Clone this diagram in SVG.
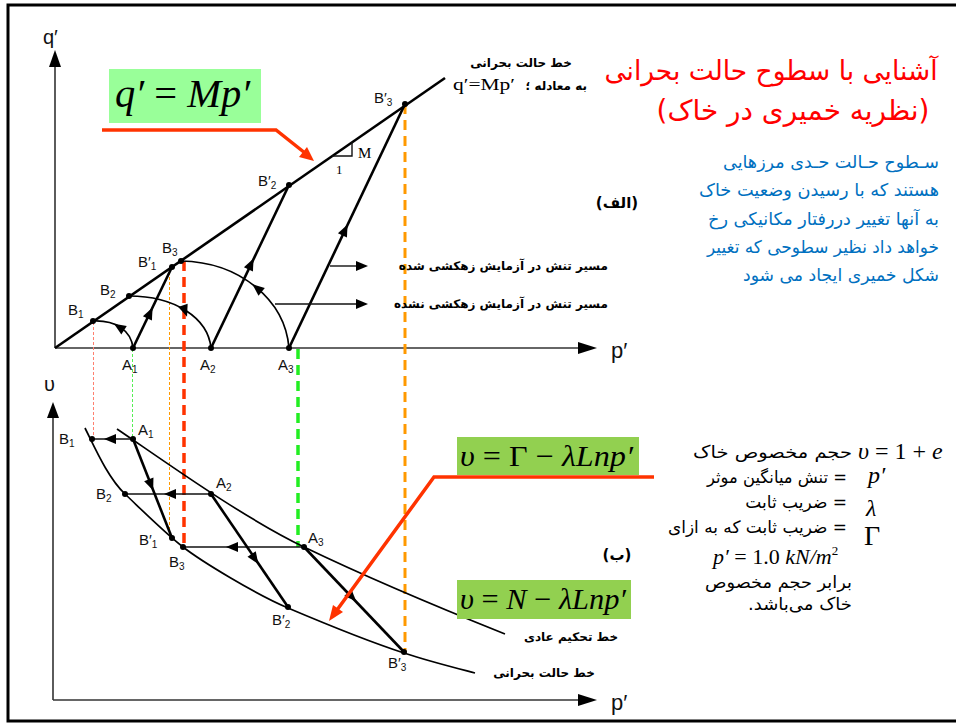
<svg xmlns="http://www.w3.org/2000/svg" width="956" height="723" viewBox="0 0 956 723">
<defs>
<style>
.ax{stroke:#333;stroke-width:1.6;fill:none}
.thk{stroke:#000;stroke-width:2.6;fill:none}
.thn{stroke:#111;stroke-width:1.4;fill:none}
.arc{stroke:#000;stroke-width:1.7;fill:none}
.ah{fill:#000}
.dot{fill:#000}
.lbl{font-family:"Liberation Sans",Arial,sans-serif;font-size:15px;fill:#111}
.sub{font-size:10px}
.fa{font-family:"DejaVu Sans",sans-serif;direction:rtl}
.math{font-family:"Liberation Serif","Times New Roman",serif;fill:#000}
.it{font-style:italic}
.up{font-style:normal}
.red{stroke:#FF3300;stroke-width:3.5;fill:none}
</style>
<path id="tri" d="M6,0 L-6,-5 L-6,5 Z"/>
</defs>
<rect x="8" y="5" width="950" height="716" fill="#fff" stroke="#000" stroke-width="3"/>

<g id="top-axes">
<line class="ax" x1="55" y1="348" x2="55" y2="64"/>
<polygon class="ah" points="55,50 49,67 61,67"/>
<line class="ax" x1="55" y1="348" x2="582" y2="348"/>
<polygon class="ah" points="597,348 578,342 578,354"/>
<text x="43" y="44" class="lbl" style="font-size:20px">q′</text>
<text x="611" y="358" class="lbl" style="font-size:22px">p′</text>
</g>

<g id="bottom-axes">
<line class="ax" x1="53" y1="700" x2="53" y2="416"/>
<polygon class="ah" points="53,402 47,418 59,418"/>
<line class="ax" x1="53" y1="700" x2="582" y2="700"/>
<polygon class="ah" points="597,700 578,694 578,706"/>
<text x="44" y="391" class="lbl" style="font-size:20px">υ</text>
<text x="611" y="710" class="lbl" style="font-size:22px">p′</text>
</g>

<g id="guides">
<line x1="93.5" y1="322" x2="93.5" y2="439" stroke="#FF7F6F" stroke-width="1" stroke-dasharray="3 2"/>
<line x1="132.5" y1="349" x2="132.5" y2="439" stroke="#55EE55" stroke-width="1" stroke-dasharray="3 2"/>
<line x1="169.5" y1="267" x2="169.5" y2="538" stroke="#FF9900" stroke-width="1" stroke-dasharray="3 2"/>
<line x1="184" y1="261" x2="184" y2="547" stroke="#FF3300" stroke-width="3.5" stroke-dasharray="10 6"/>
<line x1="298" y1="349" x2="298" y2="547" stroke="#22EE22" stroke-width="3.5" stroke-dasharray="10 6"/>
<line x1="405" y1="104" x2="405" y2="652" stroke="#FF9900" stroke-width="3" stroke-dasharray="10 6"/>
</g>

<g id="connectors">
<line class="thk" x1="55" y1="348" x2="445" y2="78" stroke-width="2.2"/>
<polyline class="thn" points="332,156 352,156 352,142" stroke-width="1.2"/>
<line class="thk" x1="133" y1="348" x2="172" y2="267"/>
<line class="thk" x1="211" y1="348" x2="289" y2="185"/>
<line class="thk" x1="289" y1="348" x2="405" y2="104"/>
<path class="arc" d="M133,348 C131,330 115,320 93,321"/>
<path class="arc" d="M211,348 C208,318 175,296 129,296"/>
<path class="arc" d="M289,348 C285,300 240,262 181,261"/>
<use href="#tri" transform="translate(150,313) rotate(-64.3)"/>
<use href="#tri" transform="translate(251,264) rotate(-64.4)"/>
<use href="#tri" transform="translate(345,230) rotate(-64.6)"/>
<use href="#tri" transform="translate(119,327) rotate(213)"/>
<use href="#tri" transform="translate(185,311) rotate(70)"/>
<use href="#tri" transform="translate(257,288) rotate(219)"/>
<line class="thn" x1="330" y1="266" x2="358" y2="266"/>
<polygon class="ah" points="368,266 356,261 356,271"/>
<line class="thn" x1="275" y1="304" x2="358" y2="304"/>
<polygon class="ah" points="368,304 356,299 356,309"/>
<path class="arc" d="M117,429 C160,458 240,516 304,547 C360,574 440,608 505,634"/>
<path class="arc" d="M85,428 C95,448 108,478 125,494 C145,513 165,533 183,547 C201,561 255,594 288,608 C321,622 370,642 404,653 C428,661 452,667 475,673"/>
<line class="thn" x1="133" y1="439" x2="92" y2="439"/>
<line class="thn" x1="211" y1="494" x2="125" y2="494"/>
<line class="thn" x1="304" y1="547" x2="183" y2="547"/>
<use href="#tri" transform="translate(110,439) rotate(180)"/>
<use href="#tri" transform="translate(170,494) rotate(180)"/>
<use href="#tri" transform="translate(232,547) rotate(180)"/>
<line class="thk" x1="133" y1="439" x2="172" y2="538"/>
<line class="thk" x1="211" y1="494" x2="288" y2="607"/>
<line class="thk" x1="304" y1="547" x2="404" y2="652"/>
<use href="#tri" transform="translate(151,485) rotate(68.5)"/>
<use href="#tri" transform="translate(255,559) rotate(55.7)"/>
<use href="#tri" transform="translate(352,597) rotate(46.4)"/>
<polyline class="red" points="102,130 276,130 305,153"/>
<polygon fill="#FF3300" points="314,161 299,157 307,147"/>
<polyline class="red" points="654,477 434,477 337,610"/>
<polygon fill="#FF3300" points="329,621 343,612 333,605"/>
</g>

<g id="top-points">
<circle class="dot" cx="93" cy="321" r="3"/>
<circle class="dot" cx="129" cy="296" r="3"/>
<circle class="dot" cx="172" cy="267" r="3"/>
<circle class="dot" cx="181" cy="261" r="3"/>
<circle class="dot" cx="289" cy="185" r="3"/>
<circle class="dot" cx="405" cy="104" r="3"/>
<circle class="dot" cx="133" cy="348" r="3"/>
<circle class="dot" cx="211" cy="348" r="3"/>
<circle class="dot" cx="289" cy="348" r="3"/>
<text class="lbl" x="68" y="315">B<tspan class="sub" dy="3">1</tspan></text>
<text class="lbl" x="100" y="295">B<tspan class="sub" dy="3">2</tspan></text>
<text class="lbl" x="138" y="267">B′<tspan class="sub" dy="3">1</tspan></text>
<text class="lbl" x="162" y="253">B<tspan class="sub" dy="3">3</tspan></text>
<text class="lbl" x="258" y="186">B′<tspan class="sub" dy="3">2</tspan></text>
<text class="lbl" x="374" y="103">B′<tspan class="sub" dy="3">3</tspan></text>
<text class="lbl" x="122" y="370">A<tspan class="sub" dy="3">1</tspan></text>
<text class="lbl" x="200" y="370">A<tspan class="sub" dy="3">2</tspan></text>
<text class="lbl" x="278" y="370">A<tspan class="sub" dy="3">3</tspan></text>
<text x="358" y="158" style="font-family:'Liberation Serif',serif;font-size:15px">M</text>
<text x="336" y="174" style="font-family:'Liberation Serif',serif;font-size:13px">1</text>
</g>

<g id="bottom-points">
<circle class="dot" cx="92" cy="439" r="3"/>
<circle class="dot" cx="133" cy="439" r="3"/>
<circle class="dot" cx="125" cy="494" r="3"/>
<circle class="dot" cx="211" cy="494" r="3"/>
<circle class="dot" cx="172" cy="538" r="3"/>
<circle class="dot" cx="183" cy="547" r="3"/>
<circle class="dot" cx="304" cy="547" r="3"/>
<circle class="dot" cx="288" cy="607" r="3"/>
<circle class="dot" cx="404" cy="652" r="3"/>
<text class="lbl" x="59" y="444">B<tspan class="sub" dy="3">1</tspan></text>
<text class="lbl" x="138" y="435">A<tspan class="sub" dy="3">1</tspan></text>
<text class="lbl" x="96" y="499">B<tspan class="sub" dy="3">2</tspan></text>
<text class="lbl" x="216" y="488">A<tspan class="sub" dy="3">2</tspan></text>
<text class="lbl" x="139" y="545">B′<tspan class="sub" dy="3">1</tspan></text>
<text class="lbl" x="169" y="567">B<tspan class="sub" dy="3">3</tspan></text>
<text class="lbl" x="308" y="543">A<tspan class="sub" dy="3">3</tspan></text>
<text class="lbl" x="272" y="625">B′<tspan class="sub" dy="3">2</tspan></text>
<text class="lbl" x="388" y="668">B′<tspan class="sub" dy="3">3</tspan></text>
</g>

<g id="top-labels" style="font-weight:bold" font-size="12">
<text class="fa" x="521" y="67" text-anchor="middle">خط حالت بحرانی</text>
<text class="fa" x="587" y="90" text-anchor="start">به معادله ؛</text>
<text x="453" y="90" textLength="62" lengthAdjust="spacingAndGlyphs" style="font-family:'Liberation Serif',serif;font-size:17px;font-weight:normal">q′=Mp′</text>
<text class="fa" x="608" y="270" text-anchor="start">مسیر تنش در آزمایش زهکشی شده</text>
<text class="fa" x="608" y="308" text-anchor="start">مسیر تنش در آزمایش زهکشی نشده</text>
<text class="fa" x="617" y="208" text-anchor="middle" font-size="15">(الف)</text>
</g>

<g id="bottom-labels" style="font-weight:bold" font-size="12">
<text class="fa" x="617" y="560" text-anchor="middle" font-size="15">(ب)</text>
<text class="fa" x="571" y="641" text-anchor="middle">خط تحکیم عادی</text>
<text class="fa" x="544" y="677" text-anchor="middle">خط حالت بحرانی</text>
</g>

<g id="eq-top">
<rect x="109" y="69" width="152" height="54" fill="#99FF99"/>
<text class="math it" x="115" y="107" font-size="40" textLength="135" lengthAdjust="spacingAndGlyphs">q′<tspan class="up"> = </tspan>Mp′</text>
</g>

<g id="eq-ncl">
<rect x="457" y="437" width="182" height="38" fill="#92D050"/>
<text class="math it" x="460" y="466" font-size="30" textLength="173" lengthAdjust="spacingAndGlyphs">υ<tspan class="up"> = Γ − </tspan>λLnp′</text>
</g>

<g id="eq-csl">
<rect x="457" y="580" width="174" height="39" fill="#92D050"/>
<text class="math it" x="460" y="609" font-size="30" textLength="166" lengthAdjust="spacingAndGlyphs">υ<tspan class="up"> = </tspan>N<tspan class="up"> − </tspan>λLnp′</text>
</g>

<g id="title" fill="#FF0000">
<text class="fa" x="771" y="80" text-anchor="middle" font-size="27" textLength="333" lengthAdjust="spacingAndGlyphs">آشنایی با سطوح حالت بحرانی</text>
<text class="fa" x="793" y="120" text-anchor="middle" font-size="28" textLength="273" lengthAdjust="spacingAndGlyphs">(نظریه خمیری در خاک)</text>
</g>

<g id="description" fill="#0070C0" font-size="17.5">
<text class="fa" x="939" y="168" text-anchor="start" textLength="216" lengthAdjust="spacingAndGlyphs">سـطوح حـالت حـدی مرزهایی</text>
<text class="fa" x="939" y="196" text-anchor="start" textLength="240" lengthAdjust="spacingAndGlyphs">هستند که با رسیدن وضعیت خاک</text>
<text class="fa" x="939" y="225" text-anchor="start" textLength="231" lengthAdjust="spacingAndGlyphs">به آنها تغییر دررفتار مکانیکی رخ</text>
<text class="fa" x="939" y="253" text-anchor="start" textLength="232" lengthAdjust="spacingAndGlyphs">خواهد داد نظیر سطوحی که تغییر</text>
<text class="fa" x="939" y="281" text-anchor="start" textLength="196" lengthAdjust="spacingAndGlyphs">شکل خمیری ایجاد می شود</text>
</g>

<g id="definitions" font-size="17">
<text class="math it" x="858" y="459" font-size="24">υ<tspan class="up"> = 1 + </tspan>e</text>
<text class="fa" x="852" y="458" text-anchor="start" textLength="159" lengthAdjust="spacingAndGlyphs">حجم مخصوص خاک</text>
<text class="math it" x="868" y="483" font-size="24">p′</text>
<text class="fa" x="847" y="483" text-anchor="start" textLength="140" lengthAdjust="spacingAndGlyphs">= تنش میانگین موثر</text>
<text class="math it" x="866" y="516" font-size="24">λ</text>
<text class="fa" x="847" y="508" text-anchor="start">= ضریب ثابت</text>
<text class="math up" x="864" y="545" font-size="28">Γ</text>
<text class="fa" x="847" y="533" text-anchor="start" textLength="179" lengthAdjust="spacingAndGlyphs">= ضریب ثابت که به ازای</text>
<text class="math it" x="713" y="564" font-size="22">p′<tspan class="up"> = 1.0  </tspan>kN/m<tspan class="up" font-size="13" dy="-9">2</tspan></text>
<text class="fa" x="852" y="588" text-anchor="start" textLength="147" lengthAdjust="spacingAndGlyphs">برابر حجم مخصوص</text>
<text class="fa" x="852" y="610" text-anchor="start" textLength="104" lengthAdjust="spacingAndGlyphs">خاک می‌باشد.</text>
</g>
</svg>
